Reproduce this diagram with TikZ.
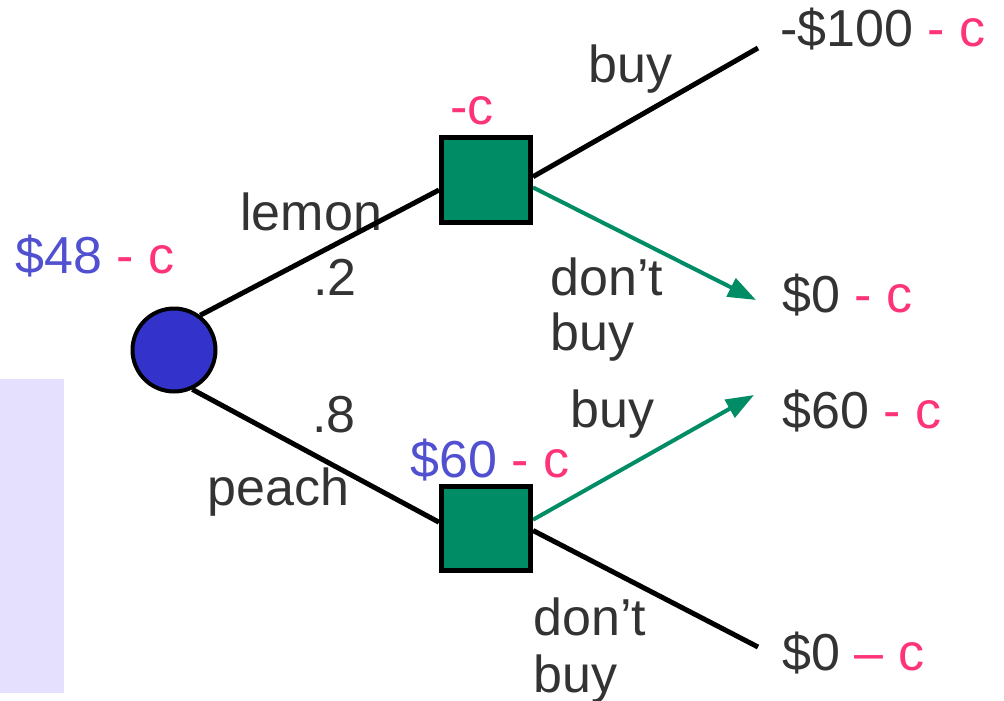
\documentclass[tikz,border=0pt]{standalone}
\usepackage{fontspec}
\setmainfont{Liberation Sans}
\usetikzlibrary{arrows.meta,backgrounds}
\definecolor{txt}{RGB}{51,51,51}
\definecolor{pinkc}{RGB}{255,51,119}
\definecolor{bluet}{RGB}{80,80,208}
\definecolor{ballblue}{RGB}{51,51,204}
\definecolor{boxgreen}{RGB}{0,140,100}
\definecolor{lav}{RGB}{230,224,255}
\begin{document}
\begin{tikzpicture}[x=0.5pt,y=-0.5pt,
  lbl/.style={anchor=base west,inner sep=0pt,text=txt,font=\fontsize{26}{30}\selectfont},
  branch/.style={line width=2.5pt,draw=black},
  choice/.style={line width=2pt,draw=boxgreen,-{Triangle[length=14pt,width=10pt]}},
  decbox/.style={draw=black,line width=2.5pt,fill=boxgreen,minimum width=44.5pt,minimum height=42pt,inner sep=0pt},
  chance/.style={circle,draw=black,line width=2pt,fill=ballblue,minimum size=41.5pt,inner sep=0pt}]
\useasboundingbox (0,0) rectangle (1004,700);
\fill[lav] (0,379) rectangle (64,693);
% nodes
\node[chance] (ch) at (174,350) {};
\node[decbox] (d1) at (486,180) {};
\node[decbox] (d2) at (486,528) {};
\coordinate (o1) at (758,48);
\coordinate (o2) at (756,300);
\coordinate (o3) at (754,395);
\coordinate (o4) at (758,647);
\begin{scope}[on background layer]
  % labels
  \node[lbl] (v48) at (15,273) {\textcolor{bluet}{\$48}\textcolor{pinkc}{\ - c}};
  \node[lbl,text=pinkc] (vc) at (450,125) {-c};
  \node[lbl] (v60) at (410,477) {\textcolor{bluet}{\$60}\textcolor{pinkc}{\ - c}};
  \node[lbl] (lemon) at (240,230) {lemon};
  \node[lbl] (p2) at (313,295) {.2};
  \node[lbl] (p8) at (312,432) {.8};
  \node[lbl] (peach) at (207,505) {peach};
  \node[lbl] (buy1) at (588,83) {buy};
  \node[lbl] (dont1) at (550,295) {don't};
  \node[lbl] (buy1b) at (550,350) {buy};
  \node[lbl] (buy2) at (570,427) {buy};
  \node[lbl] (dont2) at (533,635) {don't};
  \node[lbl] (buy2b) at (533,692) {buy};
  \node[lbl] (r1) at (780,47) {-\$100\textcolor{pinkc}{\ - c}};
  \node[lbl] (r2) at (782,312) {\$0\textcolor{pinkc}{\ - c}};
  \node[lbl] (r3) at (782,428) {\$60\textcolor{pinkc}{\ - c}};
  \node[lbl] (r4) at (782,670) {\$0\textcolor{pinkc}{\ -- c}};
  % connectors
  \draw[branch] (ch.53) -- (d1.192);
  \draw[branch] (ch.295) -- (d2.173);
  \draw[branch] (d1.4) -- (o1);
  \draw[choice] (d1.351) -- (o2);
  \draw[choice] (d2.10) -- (o3);
  \draw[branch] (d2.357) -- (o4);
\end{scope}
\end{tikzpicture}
\end{document}
